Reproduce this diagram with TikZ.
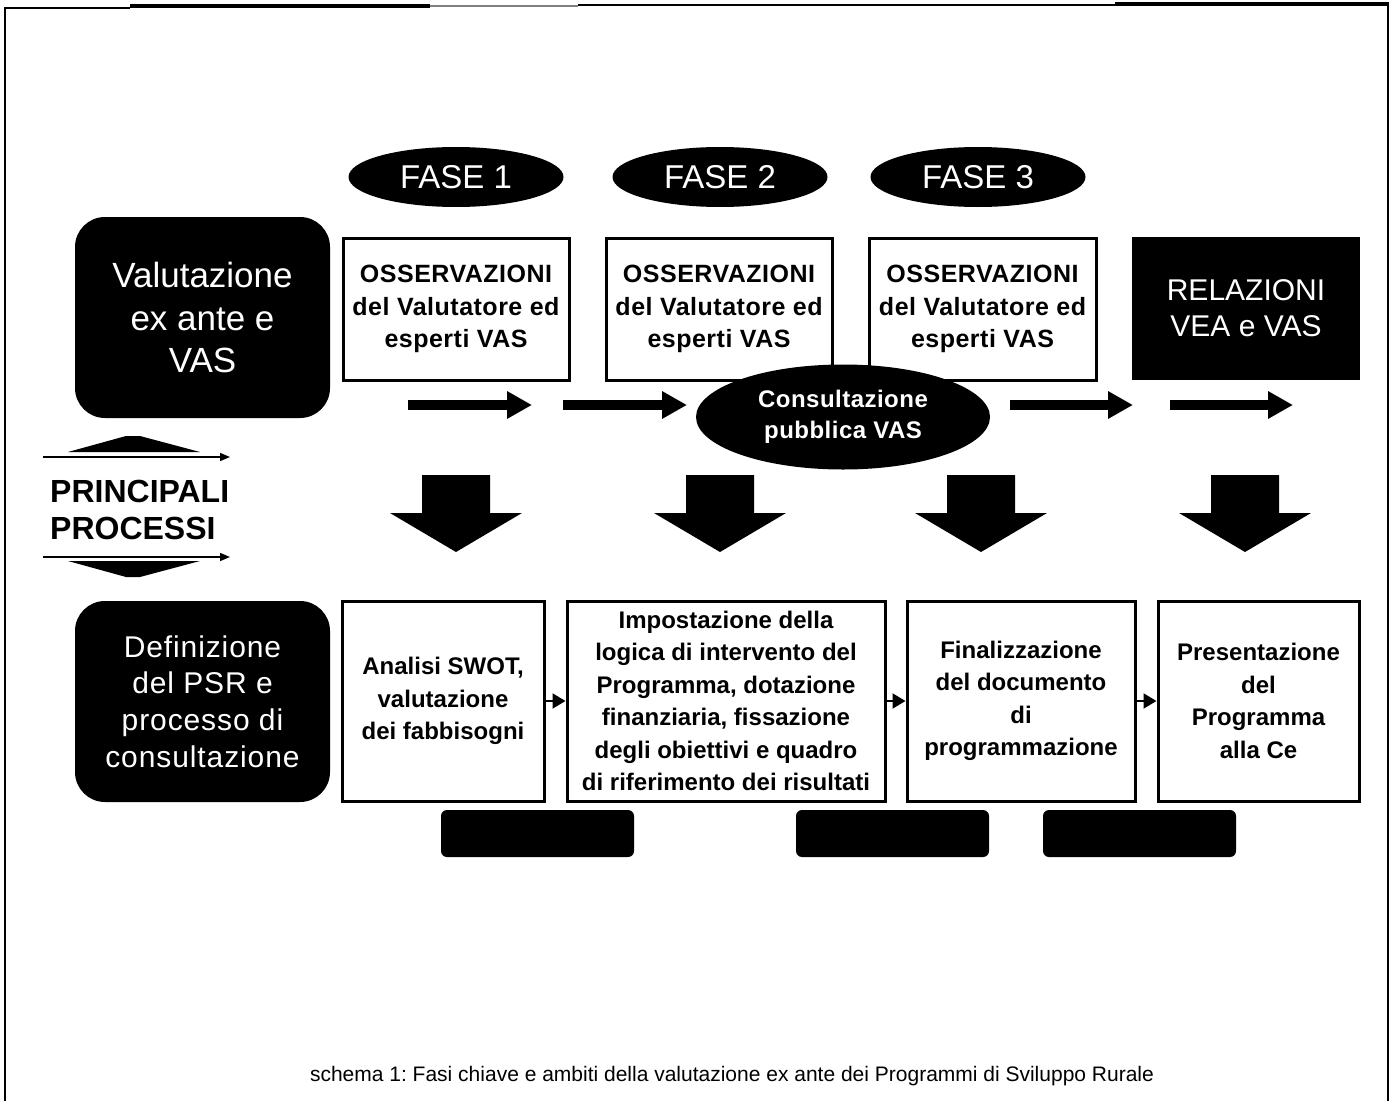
\documentclass[tikz,border=0pt]{standalone}
\usepackage{fontspec}
\setmainfont{Liberation Sans}
\usetikzlibrary{shapes.geometric,arrows.meta}
\newcommand\fsz[2]{\fontsize{#1}{#2}\selectfont}
\frenchspacing
\begin{document}
\begin{tikzpicture}[x=1pt,y=-1pt,
  blk/.style={fill=black, rounded corners=30pt, text=white, align=center, inner sep=0pt},
  wbox/.style={draw, line width=3pt, fill=white, align=center, inner sep=0pt},
  rbox/.style={fill=black, text=white, align=center, inner sep=0pt},
  fase/.style={ellipse, fill=black, text=white, inner sep=0pt, minimum width=215pt, minimum height=60pt, font=\fsz{33}{40}},
  osstext/.style={font=\bfseries\fsz{25}{32.5}\addfontfeature{LetterSpace=2}},
  lowtext/.style={font=\bfseries\fsz{24}{32.5}},
  harr/.style={line width=10pt, -{Triangle[length=25pt,width=26pt]}},
  sarr/.style={line width=2pt, -{Triangle[length=13pt,width=15pt]}},
  tarr/.style={line width=1.6pt, -{Triangle[length=10pt,width=8pt]}},
  dkbox/.style={fill=black, rounded corners=6pt, minimum width=193pt, minimum height=47pt, inner sep=0pt},
  downarr/.pic={\fill (-34,0) -- (34,0) -- (34,38) -- (66,38) -- (0,77) -- (-66,38) -- (-34,38) -- cycle;}
]
\useasboundingbox (0,0) rectangle (1397,1100);
% frame
\draw[line width=2.5pt] (5,1102) -- (5,8) -- (130,8);
\draw[line width=4pt] (130,6) -- (430,6);
\draw[line width=2pt, black!50] (430,6) -- (578,6);
\draw[line width=2pt] (578,5) -- (1115,5);
\draw[line width=4pt] (1115,4) -- (1389,4);
\draw[line width=2.5pt] (1388,3) -- (1388,1102);

% left labels
\node[blk, minimum width=255pt, minimum height=201pt, font=\fsz{35}{42.5}] (vea) at (202.5,317.5) {Valutazione\\ex ante e\\VAS};
\node[blk, minimum width=255pt, minimum height=201pt, font=\fsz{30}{36.8}\addfontfeature{LetterSpace=3}] (psr) at (202.5,701.5) {Definizione\\del PSR e\\processo di\\consultazione};

% phases
\node[fase] (f1) at (456,177) {FASE 1};
\node[fase] (f2) at (720,177) {FASE 2};
\node[fase] (f3) at (978,177) {FASE 3};

% observation boxes
\node[wbox, osstext, minimum width=226pt, minimum height=142pt] (o1) at (456,309) {OSSERVAZIONI\\del Valutatore ed\\esperti VAS};
\node[wbox, osstext, minimum width=226pt, minimum height=142pt] (o2) at (719,309) {OSSERVAZIONI\\del Valutatore ed\\esperti VAS};
\node[wbox, osstext, minimum width=227pt, minimum height=142pt] (o3) at (982.5,309) {OSSERVAZIONI\\del Valutatore ed\\esperti VAS};
\node[rbox, minimum width=228pt, minimum height=143pt, font=\fsz{30}{36}] (rel) at (1246,308.5) {RELAZIONI\\VEA e VAS};

% horizontal arrows
\coordinate (h1a) at (408,405); \coordinate (h1b) at (532,405);
\coordinate (h2a) at (563,405); \coordinate (h2b) at (687,405);
\coordinate (h3a) at (1010,405); \coordinate (h3b) at (1133,405);
\coordinate (h4a) at (1170,405); \coordinate (h4b) at (1293,405);
\draw[harr] (h1a) -- (h1b);
\draw[harr] (h2a) -- (h2b);
\draw[harr] (h3a) -- (h3b);
\draw[harr] (h4a) -- (h4b);

% public consultation
\node[ellipse, fill=black, text=white, minimum width=294pt, minimum height=105pt, inner sep=0pt, align=center, font=\bfseries\fsz{24}{31}\addfontfeature{LetterSpace=2}] (cons) at (843,417) {Consultazione\\pubblica VAS};

% big down arrows
\pic at (456,475) {downarr};
\pic at (720,475) {downarr};
\pic at (981,475) {downarr};
\pic at (1245,475) {downarr};

% principali processi
\fill (68,452) -- (126,436) -- (140,436) -- (200,452) -- cycle;
\coordinate (pa1) at (43,457); \coordinate (pa2) at (230,457);
\draw[tarr] (pa1) -- (pa2);
\node[anchor=west, align=left, inner sep=0pt, font=\bfseries\fsz{32}{37}] (pp) at (50,510) {PRINCIPALI\\PROCESSI};
\coordinate (pb1) at (43,557); \coordinate (pb2) at (230,557);
\draw[tarr] (pb1) -- (pb2);
\fill (68,561) -- (200,561) -- (140,577) -- (126,577) -- cycle;

% bottom boxes
\node[wbox, lowtext, minimum width=202pt, minimum height=200pt] (b1) at (443,701) {Analisi SWOT,\\valutazione\\dei fabbisogni};
\node[wbox, lowtext, minimum width=318pt, minimum height=200pt] (b2) at (726,701) {Impostazione della\\logica di intervento del\\Programma, dotazione\\finanziaria, fissazione\\degli obiettivi e quadro\\di riferimento dei risultati};
\node[wbox, lowtext, minimum width=228pt, minimum height=200pt] (b3) at (1021,701) {Finalizzazione\\del documento\\di\\programmazione};
\node[wbox, lowtext, minimum width=201pt, minimum height=200pt] (b4) at (1258.5,701) {Presentazione\\del\\Programma\\alla Ce};
\draw[sarr] (b1.east) -- (b2.west);
\draw[sarr] (b2.east) -- (b3.west);
\draw[sarr] (b3.east) -- (b4.west);

% dark boxes
\node[dkbox] (d1) at (537.5,833.5) {};
\node[dkbox] (d2) at (892.5,833.5) {};
\node[dkbox] (d3) at (1139.5,833.5) {};

% caption
\node[font=\fsz{21}{25}, inner sep=0pt] (cap) at (732,1076) {schema 1: Fasi chiave e ambiti della valutazione ex ante dei Programmi di Sviluppo Rurale};
\end{tikzpicture}
\end{document}
